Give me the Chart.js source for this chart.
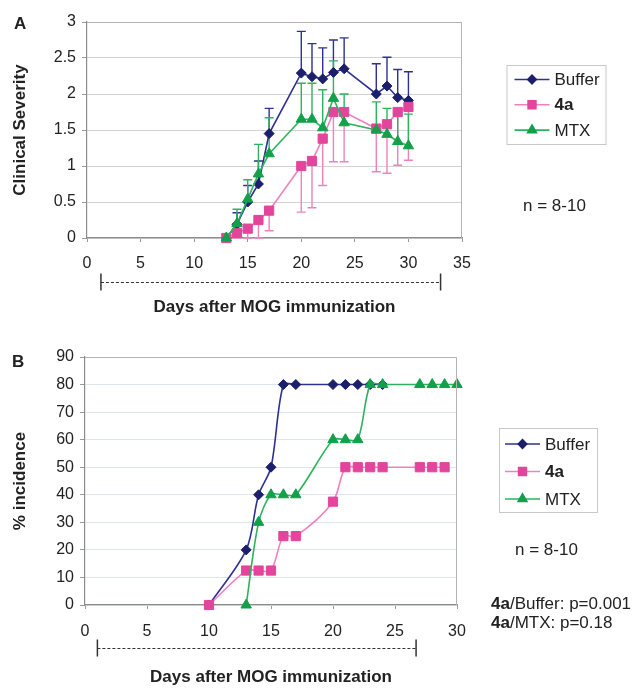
<!DOCTYPE html>
<html>
<head>
<meta charset="utf-8">
<script src="https://cdn.jsdelivr.net/npm/chart.js@4.4.0/dist/chart.umd.min.js"></script>
<style>
  html, body { margin: 0; padding: 0; background: #fff; }
  body { width: 637px; height: 688px; position: relative; overflow: hidden;
         font-family: 'Liberation Sans', Arial, sans-serif; color: #222; }
  canvas { position: absolute; left: 0; }
  #chartA { top: 0; }
  #chartB { top: 320px; }
  .note { position: absolute; font-size: 17px; line-height: 17px; white-space: nowrap; }
  .panel { font-weight: bold; }
</style>
</head>
<body>
<canvas id="chartA" width="637" height="320"></canvas>
<canvas id="chartB" width="637" height="368"></canvas>

<div class="note panel" style="left:14px;top:15px">A</div>
<div class="note panel" style="left:12px;top:353px">B</div>
<div class="note" style="left:523px;top:197px">n = 8-10</div>
<div class="note" style="left:515px;top:541px">n = 8-10</div>
<div class="note" style="left:491px;top:595px"><b>4a</b>/Buffer: p=0.001</div>
<div class="note" style="left:491px;top:614px"><b>4a</b>/MTX: p=0.18</div>

<script>
// ---- Panel A: clinical severity (mean, error bar size) ----
const daysA = [13, 14, 15, 16, 17, 20, 21, 22, 23, 24, 27, 28, 29, 30];
const severityBuffer = [0, 0.19, 0.5, 0.75, 1.45, 2.29, 2.24, 2.21, 2.3, 2.35, 2.0, 2.11, 1.95, 1.91];
const severity4a     = [0, 0.07, 0.13, 0.25, 0.38, 1.0, 1.07, 1.38, 1.75, 1.75, 1.52, 1.58, 1.75, 1.82];
const severityMTX    = [0, 0.2, 0.54, 0.89, 1.17, 1.65, 1.65, 1.53, 1.94, 1.6, 1.5, 1.44, 1.34, 1.28];
const errBuffer = [0, 0.16, 0.23, 0.32, 0.35, 0.58, 0.46, 0.43, 0.45, 0.43, 0.42, 0.4, 0.39, 0.4];   // plus
const err4a     = [0, 0.07, 0.13, 0.25, 0.28, 0.64, 0.65, 0.65, 0.69, 0.69, 0.6, 0.68, 0.74, 0.74]; // minus
const errMTX    = [0, 0.2, 0.27, 0.41, 0.5, 0.5, 0.5, 0.53, 0.52, 0.4, 0.39, 0.36, 0.39, 0.44];     // plus
const ticksA_x = [0, 35, 5];
const ticksA_y = [0, 3, 0.5];

// ---- Panel B: % incidence ----
const daysBuffer = [10, 13, 14, 15, 16, 17, 20, 21, 22, 23, 24];
const incBuffer  = [0, 20, 40, 50, 80, 80, 80, 80, 80, 80, 80];
const days4a     = [10, 13, 14, 15, 16, 17, 20, 21, 22, 23, 24, 27, 28, 29];
const inc4a      = [0, 12.5, 12.5, 12.5, 25, 25, 37.5, 50, 50, 50, 50, 50, 50, 50];
const daysMTX    = [13, 14, 15, 16, 17, 20, 21, 22, 23, 24, 27, 28, 29, 30];
const incMTX     = [0, 30, 40, 40, 40, 60, 60, 60, 80, 80, 80, 80, 80, 80];
const ticksB_x = [0, 30, 5];
const ticksB_y = [0, 90, 10];

const seriesNames = ['Buffer', '4a', 'MTX'];

// bracket under the x axis, in day units
const bracketA = [1.3, 33];
const bracketB = [1.0, 26.7];

Chart.defaults.font.family = "'Liberation Sans', Arial, sans-serif";
Chart.defaults.color = '#222';

const STYLE = {
  Buffer: { line: '#2e3192', mark: '#1c1f6b', point: 'rectRot', r: 5 },
  '4a':   { line: '#ee82bf', mark: '#e3459c', point: 'rect', r: 6.5 },
  MTX:    { line: '#2db35d', mark: '#12a04a', point: 'triangle', r: 6 }
};

function pts(xs, ys) {
  return xs.map((x, i) => ({ x: x, y: ys[i] }));
}

function series(name, xs, ys, errs, dir, tension, order) {
  const s = STYLE[name];
  return {
    label: name,
    data: pts(xs, ys),
    errors: errs,
    errorDir: dir,
    borderColor: s.line,
    borderWidth: 1.6,
    pointStyle: s.point,
    pointRadius: s.r,
    pointHoverRadius: s.r,
    pointBackgroundColor: s.mark,
    pointBorderColor: s.mark,
    pointBorderWidth: 1,
    tension: tension,
    clip: false,
    order: order
  };
}

// error bars, plot frame, bracket and legend box
const extras = {
  id: 'extras',
  beforeDatasetsDraw(chart) {
    const ctx = chart.ctx;
    const xs = chart.scales.x, ys = chart.scales.y;
    chart.data.datasets.forEach(ds => {
      if (!ds.errors) return;
      ctx.save();
      ctx.strokeStyle = ds.borderColor;
      ctx.lineWidth = 1.4;
      ds.data.forEach((p, i) => {
        const e = ds.errors[i];
        if (!e) return;
        const end = Math.max(0, p.y + ds.errorDir * e);
        const px = xs.getPixelForValue(p.x);
        const y0 = ys.getPixelForValue(p.y), y1 = ys.getPixelForValue(end);
        ctx.beginPath();
        ctx.moveTo(px, y0); ctx.lineTo(px, y1);
        ctx.moveTo(px - 4.5, y1); ctx.lineTo(px + 4.5, y1);
        ctx.stroke();
      });
      ctx.restore();
    });
  },
  afterDraw(chart, args, opts) {
    const ctx = chart.ctx, a = chart.chartArea;
    ctx.save();

    // top and right frame
    ctx.strokeStyle = '#b4b4b4';
    ctx.lineWidth = 1;
    ctx.beginPath();
    ctx.moveTo(a.left, a.top + 0.5);
    ctx.lineTo(a.right - 0.5, a.top + 0.5);
    ctx.lineTo(a.right - 0.5, a.bottom);
    ctx.stroke();

    // bracket
    const xs = chart.scales.x;
    const b0 = xs.getPixelForValue(opts.bracket[0]);
    const b1 = xs.getPixelForValue(opts.bracket[1]);
    const by = a.bottom + opts.bracketOffset;
    ctx.strokeStyle = '#333';
    ctx.lineWidth = 1.5;
    ctx.beginPath();
    ctx.moveTo(b0, by - 8.5); ctx.lineTo(b0, by + 8.5);
    ctx.moveTo(b1, by - 8.5); ctx.lineTo(b1, by + 8.5);
    ctx.stroke();
    ctx.lineWidth = 1;
    ctx.setLineDash([3, 2]);
    ctx.beginPath();
    ctx.moveTo(b0, by + 0.5); ctx.lineTo(b1, by + 0.5);
    ctx.stroke();
    ctx.setLineDash([]);

    // legend
    const L = opts.legend;
    const lx = a.right + L.dx, ly = L.top;
    ctx.strokeStyle = '#c8c8c8';
    ctx.strokeRect(lx + 0.5, ly + 0.5, L.w, L.h);
    seriesNames.forEach((name, i) => {
      const ds = chart.data.datasets.find(d => d.label === name);
      const cy = ly + L.first + i * L.gap;
      ctx.strokeStyle = ds.borderColor;
      ctx.lineWidth = ds.borderWidth;
      ctx.beginPath();
      ctx.moveTo(lx + L.lineX, cy); ctx.lineTo(lx + L.lineX + 35, cy);
      ctx.stroke();
      ctx.fillStyle = ds.pointBackgroundColor;
      ctx.strokeStyle = ds.pointBorderColor;
      Chart.helpers.drawPoint(ctx, { pointStyle: ds.pointStyle, radius: ds.pointRadius * 0.85,
        borderWidth: 1, rotation: 0 }, lx + L.lineX + 17.5, cy);
      ctx.fillStyle = '#222';
      ctx.font = (name === '4a' ? 'bold ' : '') + "17px 'Liberation Sans', Arial, sans-serif";
      ctx.textBaseline = 'middle';
      ctx.textAlign = 'left';
      ctx.fillText(name, lx + L.lineX + 40, cy + 1);
    });
    ctx.restore();
  }
};

function makeChart(id, cfg) {
  return new Chart(document.getElementById(id), {
    type: 'line',
    data: { datasets: cfg.datasets },
    plugins: [extras],
    options: {
      responsive: false,
      devicePixelRatio: 1,
      animation: false,
      layout: { padding: { top: cfg.padTop, right: cfg.padRight, left: 0, bottom: 0 } },
      plugins: {
        legend: { display: false },
        tooltip: { enabled: false },
        extras: { bracket: cfg.bracket, bracketOffset: cfg.bracketOffset, legend: cfg.legend }
      },
      scales: {
        x: {
          type: 'linear',
          min: cfg.xTicks[0], max: cfg.xTicks[1],
          ticks: { stepSize: cfg.xTicks[2], padding: cfg.xTickPad, font: { size: 16 }, color: '#222',
                   maxRotation: 0, callback: v => String(v) },
          grid: { drawOnChartArea: false, drawTicks: true, tickLength: 4, tickColor: '#999' },
          border: { color: '#8c8c8c', width: 1.2 },
          title: { display: true, text: 'Days after MOG immunization',
                   font: { size: 17, weight: 'bold' }, color: '#222', padding: { top: 0, bottom: cfg.titlePad } },
          afterFit: s => { s.height = cfg.xHeight; }
        },
        y: {
          min: cfg.yTicks[0], max: cfg.yTicks[1],
          ticks: { stepSize: cfg.yTicks[2], padding: 6, font: { size: 16 }, color: '#222',
                   callback: v => String(v) },
          grid: { color: cfg.gridColor, tickLength: 5, tickColor: '#999' },
          border: { color: '#8c8c8c', width: 1.2 },
          title: { display: true, text: cfg.yTitle, font: { size: 17, weight: 'bold' }, color: '#222',
                   padding: { top: 10, bottom: 0 } },
          afterFit: s => { s.width = cfg.yWidth; }
        }
      }
    }
  });
}

makeChart('chartA', {
  datasets: [
    series('Buffer', daysA, severityBuffer, errBuffer, 1, 0, 2),
    series('4a', daysA, severity4a, err4a, -1, 0, 1),
    series('MTX', daysA, severityMTX, errMTX, 1, 0, 0)
  ],
  padTop: 22, padRight: 175,
  xTicks: ticksA_x, yTicks: ticksA_y,
  xHeight: 82, yWidth: 87, xTickPad: 12, titlePad: 2,
  yTitle: 'Clinical Severity',
  gridColor: '#d2d2d2',
  bracket: bracketA, bracketOffset: 44,
  legend: { dx: 44.5, top: 65, w: 99, h: 79, first: 14.5, gap: 25.3, lineX: 8 }
});

makeChart('chartB', {
  datasets: [
    series('Buffer', daysBuffer, incBuffer, null, 1, 0.3, 2),
    series('4a', days4a, inc4a, null, 1, 0.3, 1),
    series('MTX', daysMTX, incMTX, null, 1, 0.3, 0)
  ],
  padTop: 37, padRight: 180,
  xTicks: ticksB_x, yTicks: ticksB_y,
  xHeight: 83, yWidth: 85, xTickPad: 13, titlePad: 0,
  yTitle: '% incidence',
  gridColor: '#dbe5ee',
  bracket: bracketB, bracketOffset: 43,
  legend: { dx: 42, top: 108, w: 98, h: 84, first: 16, gap: 27.5, lineX: 6 }
});
</script>
</body>
</html>
